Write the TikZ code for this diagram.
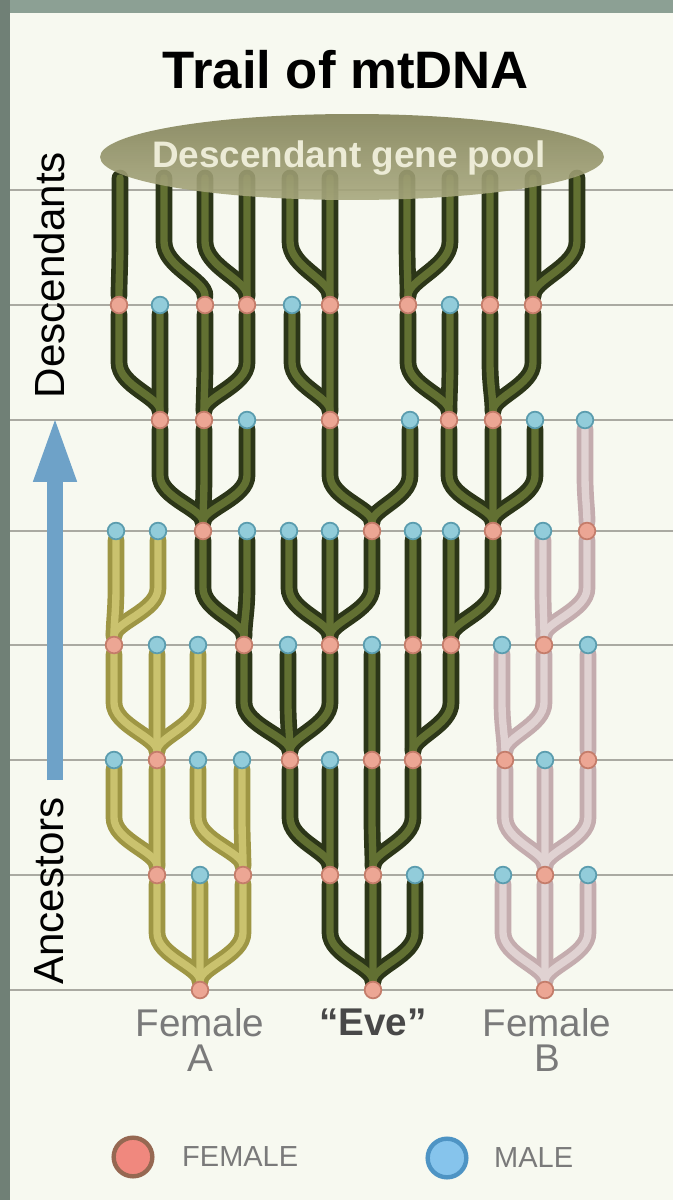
\documentclass[tikz,border=0pt]{standalone}
\usepackage{fontspec}
\setmainfont{Liberation Sans}
\usetikzlibrary{calc, arrows.meta}
\definecolor{paper}{RGB}{247,249,240}
\definecolor{rulegray}{RGB}{170,170,162}
\definecolor{scanedge}{RGB}{140,160,148}
\definecolor{evedark}{RGB}{44,54,24}
\definecolor{evelite}{RGB}{98,112,50}
\definecolor{adark}{RGB}{158,150,68}
\definecolor{alite}{RGB}{202,194,110}
\definecolor{bdark}{RGB}{196,172,174}
\definecolor{blite}{RGB}{224,210,210}
\definecolor{fempink}{RGB}{236,166,148}
\definecolor{femring}{RGB}{196,124,106}
\definecolor{malblue}{RGB}{146,204,218}
\definecolor{malring}{RGB}{90,156,174}
\definecolor{pooltop}{RGB}{130,130,88}
\definecolor{poolbot}{RGB}{168,168,126}
\definecolor{pooltext}{RGB}{236,235,214}
\definecolor{axisblue}{RGB}{110,162,200}
\definecolor{labelgray}{RGB}{122,122,122}
\definecolor{evegray}{RGB}{72,72,72}
\definecolor{keyfemfill}{RGB}{240,136,126}
\definecolor{keyfemring}{RGB}{150,104,82}
\definecolor{keymalfill}{RGB}{134,196,236}
\definecolor{keymalring}{RGB}{78,148,196}
\tikzstyle{fem}=[circle, draw=femring, fill=fempink, line width=1pt, inner sep=0pt, minimum size=9.5pt]
\tikzstyle{mal}=[circle, draw=malring, fill=malblue, line width=1pt, inner sep=0pt, minimum size=9.5pt]
\pgfdeclarelayer{bg}
\pgfdeclarelayer{strands}
\pgfsetlayers{bg,strands,main}
\newcommand{\strandpath}[2]{(#1) .. controls ($(#1)!0.2!(#1 |- #2)$) and ($(#2)!0.7!(#2 |- #1)$) .. ($(#2)!0.5!(#2 |- #1)$) -- (#2)}
% mother/child pairs of each line
\def\lineA{0c2/1c1, 0c2/1c2, 0c2/1c3, 1c1/2c0, 1c1/2c1, 1c3/2c2, 1c3/2c3, 2c1/3c0, 2c1/3c1, 2c1/3c2, 3c0/4c0, 3c0/4c1}
\def\lineB{0c10/1c9, 0c10/1c10, 0c10/1c11, 1c10/2c9, 1c10/2c10, 1c10/2c11, 2c9/3c9, 2c9/3c10, 2c11/3c11, 3c10/4c10, 3c10/4c11, 4c11/5c11}
\def\lineEve{0c6/1c5, 0c6/1c6, 0c6/1c7, 1c5/2c4, 1c5/2c5, 1c6/2c6, 1c6/2c7, 2c4/3c3, 2c4/3c4, 2c4/3c5, 2c6/3c6, 2c7/3c7, 2c7/3c8, 3c3/4c2, 3c3/4c3, 3c5/4c4, 3c5/4c5, 3c5/4c6, 3c7/4c7, 3c8/4c8, 3c8/4c9, 4c2/5c1, 4c2/5c2, 4c2/5c3, 4c6/5c5, 4c6/5c7, 4c9/5c8, 4c9/5c9, 4c9/5c10, 5c1/6c0, 5c1/6c1, 5c2/6c2, 5c2/6c3, 5c5/6c4, 5c5/6c5, 5c8/6c7, 5c8/6c8, 5c9/6c9, 5c9/6c10, 6c0/7c0, 6c2/7c1, 6c3/7c2, 6c3/7c3, 6c5/7c4, 6c5/7c5, 6c7/7c7, 6c7/7c8, 6c9/7c9, 6c10/7c10, 6c10/7c11}

\begin{document}
\begin{tikzpicture}[x=0.02cm, y=-0.02cm,
    case/.style={line width=9.5pt, line cap=round},
    core/.style={line width=4.2pt, line cap=round}]
  \useasboundingbox (0,0) rectangle (673,1200);
  \begin{pgfonlayer}{bg}
    \fill[paper] (0,0) rectangle (673,1200);
    \fill[scanedge] (0,0) rectangle (673,13);
    \fill[scanedge!80!black] (0,0) rectangle (10,1200);
    \foreach \y in {190,305,420,531,645,760,875,990}
      \draw[rulegray, line width=1.2pt] (10,\y) -- (673,\y);
  \end{pgfonlayer}

  % generations, oldest first
  \foreach \col/\x/\s in {2/200/fem, 6/373/fem, 10/545/fem}
    \node[\s] (g0c\col) at (\x,990) {};
  \foreach \col/\x/\s in {1/157/fem, 2/200/mal, 3/243/fem, 5/330/fem, 6/373/fem, 7/415/mal, 9/503/mal, 10/545/fem, 11/588/mal}
    \node[\s] (g1c\col) at (\x,875) {};
  \foreach \col/\x/\s in {0/114/mal, 1/157/fem, 2/198/mal, 3/242/mal, 4/290/fem, 5/330/mal, 6/372/fem, 7/413/fem, 9/505/fem, 10/545/mal, 11/588/fem}
    \node[\s] (g2c\col) at (\x,760) {};
  \foreach \col/\x/\s in {0/114/fem, 1/157/mal, 2/198/mal, 3/244/fem, 4/288/mal, 5/330/fem, 6/372/mal, 7/413/fem, 8/451/fem, 9/502/mal, 10/544/fem, 11/588/mal}
    \node[\s] (g3c\col) at (\x,645) {};
  \foreach \col/\x/\s in {0/116/mal, 1/158/mal, 2/203/fem, 3/247/mal, 4/289/mal, 5/330/mal, 6/372/fem, 7/413/mal, 8/451/mal, 9/493/fem, 10/543/mal, 11/587/fem}
    \node[\s] (g4c\col) at (\x,531) {};
  \foreach \col/\x/\s in {1/160/fem, 2/204/fem, 3/247/mal, 5/330/fem, 7/410/mal, 8/449/fem, 9/493/fem, 10/535/mal, 11/585/mal}
    \node[\s] (g5c\col) at (\x,420) {};
  \foreach \col/\x/\s in {0/119/fem, 1/160/mal, 2/205/fem, 3/247/fem, 4/292/mal, 5/330/fem, 7/408/fem, 8/450/mal, 9/490/fem, 10/533/fem}
    \node[\s] (g6c\col) at (\x,305) {};
  % strand ends under the pool
  \foreach \col/\x in {0/120, 1/164, 2/205, 3/247, 4/290, 5/330, 7/407, 8/450, 9/490, 10/533, 11/577}
    \coordinate (g7c\col) at (\x,178);

  \begin{pgfonlayer}{strands}
    \foreach \mom/\kid in \lineA \draw[case, adark] \strandpath{g\mom}{g\kid};
    \foreach \mom/\kid in \lineA \draw[core, alite] \strandpath{g\mom}{g\kid};
    \foreach \mom/\kid in \lineB \draw[case, bdark] \strandpath{g\mom}{g\kid};
    \foreach \mom/\kid in \lineB \draw[core, blite] \strandpath{g\mom}{g\kid};
    \foreach \mom/\kid in \lineEve \draw[case, evedark] \strandpath{g\mom}{g\kid};
    \foreach \mom/\kid in \lineEve \draw[core, evelite] \strandpath{g\mom}{g\kid};
  \end{pgfonlayer}

  \node[font=\fontsize{30}{36}\selectfont\bfseries] (title) at (346,70) {Trail of mtDNA};
  \shade[top color=pooltop, bottom color=poolbot, fill opacity=0.9] (352,157) ellipse [x radius=5.04cm, y radius=0.86cm];
  \node[text=pooltext, font=\fontsize{21}{24}\selectfont\bfseries] (genepool) at (349,158) {Descendant gene pool};

  % time axis
  \coordinate (arrfoot) at (55,780);
  \coordinate (arrtip) at (55,415);
  \draw[axisblue, line width=9pt, -{Triangle[length=38pt, width=22pt]}] (arrfoot) -- (arrtip);
  \node[rotate=90, font=\fontsize{24}{28}\selectfont] (desc) at (49,275) {Descendants};
  \node[rotate=90, font=\fontsize{24}{28}\selectfont] (anc) at (49,891) {Ancestors};

  % founders
  \node[align=center, text=labelgray, font=\fontsize{22}{20}\selectfont] (femA) at (200,1040) {Female\\A};
  \node[text=evegray, font=\fontsize{22}{24}\selectfont\bfseries] (eve) at (373,1022) {“Eve”};
  \node[align=center, text=labelgray, font=\fontsize{22}{20}\selectfont] (femB) at (547,1040) {Female\\B};

  % key
  \node[circle, draw=keyfemring, fill=keyfemfill, line width=2.5pt, minimum size=22pt] (keyfem) at (133,1157) {};
  \node[anchor=west, text=labelgray, font=\fontsize{16.5}{18}\selectfont] (keyfemtext) at (176,1157) {FEMALE};
  \node[circle, draw=keymalring, fill=keymalfill, line width=2.5pt, minimum size=22pt] (keymal) at (447,1158) {};
  \node[anchor=west, text=labelgray, font=\fontsize{16.5}{18}\selectfont] (keymaltext) at (488,1158) {MALE};
\end{tikzpicture}
\end{document}
